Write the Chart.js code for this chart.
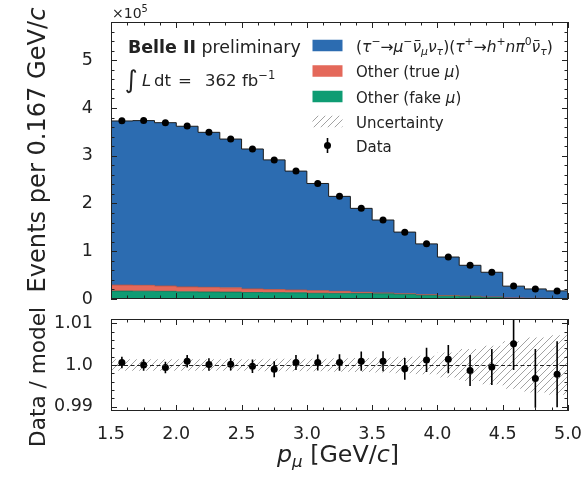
<!DOCTYPE html>
<html>
<head>
<meta charset="utf-8">
<title>p_mu distribution, Belle II preliminary</title>
<script src="https://cdn.jsdelivr.net/npm/chart.js"></script>
<style>
  body { margin: 0; background: #fff; }
  #wrap { position: relative; width: 583px; height: 477px; }
  #main { position: absolute; left: 0; top: 0; }
  #ratio { position: absolute; left: 0; top: 300px; }
</style>
</head>
<body>
<div id="wrap">
  <canvas id="main" width="583" height="310"></canvas>
  <canvas id="ratio" width="583" height="177"></canvas>
</div>
<script>
// bin edges of p_mu [GeV/c], 21 bins of 0.167
const binEdges = [1.5, 1.6667, 1.8333, 2.0, 2.1667, 2.3333, 2.5, 2.6667, 2.8333, 3.0, 3.1667,
                  3.3333, 3.5, 3.6667, 3.8333, 4.0, 4.1667, 4.3333, 4.5, 4.6667, 4.8333, 5.0];

// stacked model components (events per bin)
const signal = [343600, 344900, 341900, 336400, 324500, 311600, 292900, 271500, 248900, 224400, 198800,
                175700, 152700, 129000, 106300, 80700, 64800, 51700, 24700, 19600, 16100];
const otherTrueMu = [12700, 12300, 11300, 10300, 9800, 8900, 7600, 6500, 5900, 5500, 4400,
                     2700, 1900, 1500, 1600, 1300, 1300, 1300, 1300, 800, 400];
const otherFakeMu = [16500, 16300, 16000, 15000, 14700, 14400, 13600, 13300, 13000, 12000, 11700,
                     11400, 10800, 9600, 7500, 5900, 4500, 3000, 900, 700, 500];

// data
const dataCounts = [373000, 373500, 369000, 362000, 349000, 335000, 314000, 291000, 268000, 242000, 215000,
                    190000, 165500, 140000, 115500, 88000, 70500, 56000, 27000, 21000, 17000];

// ratio panel
const ratio = [1.0006, 1.0000, 0.9994, 1.0009, 1.0001, 1.0002, 0.9997, 0.9990, 1.0006, 1.0006, 1.0006,
               1.0009, 1.0009, 0.9991, 1.0012, 1.0014, 0.9987, 0.9995, 1.0051, 0.9968, 0.9978];
const ratioErr = [0.0014, 0.0014, 0.0014, 0.0015, 0.0015, 0.0015, 0.0016, 0.0019, 0.0018, 0.0019, 0.0020,
                  0.0023, 0.0024, 0.0026, 0.0029, 0.0034, 0.0037, 0.0043, 0.0063, 0.0070, 0.0079];
const modelUnc = [0.0014, 0.0014, 0.0014, 0.0014, 0.0014, 0.0014, 0.0014, 0.0015, 0.0015, 0.0015, 0.0016,
                  0.0017, 0.0018, 0.0020, 0.0022, 0.0030, 0.0038, 0.0046, 0.0057, 0.0066, 0.0071];

// ticks
const pTicks = [1.5, 2.0, 2.5, 3.0, 3.5, 4.0, 4.5, 5.0];
const pTickLabels = ['1.5', '2.0', '2.5', '3.0', '3.5', '4.0', '4.5', '5.0'];
const countTicks = [0, 100000, 200000, 300000, 400000, 500000];
const countTickLabels = ['0', '1', '2', '3', '4', '5'];
const ratioTicks = [0.99, 1.0, 1.01];
const ratioTickLabels = ['0.99', '1.0', '1.01'];

const FONT = '"DejaVu Sans", "Liberation Sans", sans-serif';
const INK = '#222';
const C_SIG = '#2c6cb1';
const C_TRUE = '#e4685a';
const C_FAKE = '#0e9c73';

const centers = binEdges.slice(0, -1).map((e, i) => (e + binEdges[i + 1]) / 2);
const xy = vals => vals.map((v, i) => ({ x: centers[i], y: v }));
// points on bin edges for stepped lines, last bin value repeated at the right edge
const stepPts = vals => binEdges.map((e, i) => ({ x: e, y: vals[Math.min(i, vals.length - 1)] }));

function hatchPattern(ctx) {
  const s = 7;
  const c = document.createElement('canvas');
  c.width = s; c.height = s;
  const g = c.getContext('2d');
  g.strokeStyle = '#a2a2a2';
  g.lineWidth = 1;
  g.beginPath();
  g.moveTo(0, s); g.lineTo(s, 0);
  g.moveTo(-1, 1); g.lineTo(1, -1);
  g.moveTo(s - 1, s + 1); g.lineTo(s + 1, s - 1);
  g.stroke();
  return ctx.createPattern(c, 'repeat');
}

// text made of pieces (italic, bold, super/subscripts)
const P = (t, o) => Object.assign({ t }, o || {});
function rich(ctx, parts, x, y, size, opts) {
  opts = opts || {};
  const fontOf = (p, s) => (p.i ? 'italic ' : '') + (p.b ? 'bold ' : '') + s + 'px ' + FONT;
  const sizeOf = (p, s) => s * ((p.sup || p.sub) ? 0.7 : 1) * (p.s || 1);
  const measure = s => parts.reduce((w, p) => {
    ctx.font = fontOf(p, sizeOf(p, s));
    return w + ctx.measureText(p.t).width + (p.gap || 0) * s;
  }, 0);
  if (opts.width) size *= opts.width / measure(size);
  const total = measure(size);
  let cx = opts.align === 'center' ? x - total / 2 : x;
  ctx.fillStyle = opts.color || INK;
  ctx.textAlign = 'left';
  ctx.textBaseline = 'alphabetic';
  for (const p of parts) {
    const s = sizeOf(p, size);
    ctx.font = fontOf(p, s);
    if (p.x !== undefined) cx = p.x;
    const dy = (p.sup ? -0.42 * size : p.sub ? 0.2 * size : 0) + (p.dy || 0) * size;
    ctx.fillText(p.t, cx, y + dy);
    const tw = ctx.measureText(p.t).width;
    if (p.bar) ctx.fillRect(cx + tw * 0.28, y + dy - 0.74 * s, tw * 0.62, Math.max(1, 0.06 * s));
    cx += tw + (p.gap || 0) * size;
  }
  return total;
}

function minorValues(min, max, step) {
  const out = [];
  for (let k = Math.ceil(min / step - 1e-6); k * step <= max + 1e-9; k++) out.push(k * step);
  return out;
}

// frame with inward ticks on all four sides
function drawBox(chart, xStep, yStep) {
  const { ctx, chartArea: a, scales: { x, y } } = chart;
  const isMajor = (scale, v) => scale.ticks.some(t => Math.abs(t.value - v) < 1e-7 * Math.max(1, Math.abs(v)));
  ctx.save();
  ctx.strokeStyle = INK;
  ctx.lineWidth = 1;
  ctx.beginPath();
  for (const v of minorValues(x.min, x.max, xStep)) {
    const px = Math.round(x.getPixelForValue(v)) + 0.5;
    const len = isMajor(x, v) ? 6 : 3.5;
    ctx.moveTo(px, a.bottom); ctx.lineTo(px, a.bottom - len);
    ctx.moveTo(px, a.top); ctx.lineTo(px, a.top + len);
  }
  for (const v of minorValues(y.min, y.max, yStep)) {
    const py = Math.round(y.getPixelForValue(v)) + 0.5;
    const len = isMajor(y, v) ? 6 : 3.5;
    ctx.moveTo(a.left, py); ctx.lineTo(a.left + len, py);
    ctx.moveTo(a.right, py); ctx.lineTo(a.right - len, py);
  }
  ctx.stroke();
  ctx.strokeRect(Math.round(a.left) + 0.5, Math.round(a.top) + 0.5,
                 Math.round(a.right - a.left) - 1, Math.round(a.bottom - a.top) - 1);
  ctx.restore();
}

const tickFont = { family: FONT, size: 17.5 };
const noGrid = { display: false };
const noBorder = { display: false };
const fixX = h => s => { s.height = h; s.paddingLeft = 0; s.paddingRight = 0; };
const fixY = w => s => { s.width = w; s.paddingTop = 0; s.paddingBottom = 0; };

// ---- main panel ----
const mainCtx = document.getElementById('main').getContext('2d');
const hatchMain = hatchPattern(mainCtx);

const mainDecor = {
  id: 'mainDecor',
  afterDraw(chart) {
    const ctx = chart.ctx;
    drawBox(chart, 0.125, 20000);
    ctx.save();
    rich(ctx, [P('×10'), P('5', { sup: 1 })], 112, 18, 14);
    rich(ctx, [P('Belle II', { b: 1 }), P(' preliminary')], 128, 53, 17.5, { width: 173 });
    rich(ctx, [P('∫', { s: 1.5, x: 125, dy: 0.12 }), P('L', { i: 1, x: 142 }), P('dt', { x: 154 }),
               P('=', { x: 178 }), P('362', { x: 205 }), P('fb', { x: 242 }), P('−1', { sup: 1 })], 0, 86, 16.5);

    // legend
    const rows = [45.5, 71, 96.5, 121.5, 145.5];
    const px = 312.5, pw = 30, ph = 11.5, tx = 356;
    ctx.fillStyle = C_SIG; ctx.fillRect(px, rows[0] - ph / 2, pw, ph);
    ctx.fillStyle = C_TRUE; ctx.fillRect(px, rows[1] - ph / 2, pw, ph);
    ctx.fillStyle = C_FAKE; ctx.fillRect(px, rows[2] - ph / 2, pw, ph);
    ctx.fillStyle = hatchMain; ctx.fillRect(px, rows[3] - ph / 2, pw, ph);
    ctx.strokeStyle = '#000'; ctx.lineWidth = 1.6;
    ctx.beginPath(); ctx.moveTo(px + pw / 2, rows[4] - 7.5); ctx.lineTo(px + pw / 2, rows[4] + 7.5); ctx.stroke();
    ctx.fillStyle = '#000';
    ctx.beginPath(); ctx.arc(px + pw / 2, rows[4], 3.5, 0, 2 * Math.PI); ctx.fill();

    rich(ctx, [P('('), P('τ', { i: 1 }), P('−', { sup: 1 }), P('→'), P('μ', { i: 1 }), P('−', { sup: 1 }),
               P('ν', { i: 1, bar: 1 }), P('μ', { i: 1, sub: 1 }), P('ν', { i: 1 }), P('τ', { i: 1, sub: 1 }), P(')'),
               P('('), P('τ', { i: 1 }), P('+', { sup: 1 }), P('→'), P('h', { i: 1 }), P('+', { sup: 1 }),
               P('n', { i: 1 }), P('π', { i: 1 }), P('0', { sup: 1 }), P('ν', { i: 1, bar: 1 }),
               P('τ', { i: 1, sub: 1 }), P(')')], tx, rows[0] + 6, 15, { width: 197 });
    rich(ctx, [P('Other (true '), P('μ', { i: 1 }), P(')')], tx, rows[1] + 6, 15);
    rich(ctx, [P('Other (fake '), P('μ', { i: 1 }), P(')')], tx, rows[2] + 6, 15);
    rich(ctx, [P('Uncertainty')], tx, rows[3] + 6, 15);
    rich(ctx, [P('Data')], tx, rows[4] + 6, 15);

    // y title
    ctx.translate(45, 150);
    ctx.rotate(-Math.PI / 2);
    rich(ctx, [P('Events per 0.167 GeV/'), P('c', { i: 1 })], 0, 0, 22, { width: 285, align: 'center' });
    ctx.restore();
  }
};

new Chart(mainCtx, {
  type: 'line',
  data: {
    datasets: [
      { label: 'Other (fake mu)', data: stepPts(otherFakeMu), stack: 'mc', stepped: true, fill: 'origin',
        backgroundColor: C_FAKE, borderColor: '#0a7254', borderWidth: 0.8, pointRadius: 0, order: 1 },
      { label: 'Other (true mu)', data: stepPts(otherTrueMu), stack: 'mc', stepped: true, fill: '-1',
        backgroundColor: C_TRUE, borderColor: '#b9503f', borderWidth: 0.8, pointRadius: 0, order: 1 },
      { label: 'signal', data: stepPts(signal), stack: 'mc', stepped: true, fill: '-1',
        backgroundColor: C_SIG, borderColor: '#1b1b1b', borderWidth: 1, pointRadius: 0, order: 1 },
      { type: 'scatter', label: 'Data', data: xy(dataCounts), pointRadius: 3.5, pointHoverRadius: 3.5,
        backgroundColor: '#000', borderWidth: 0, order: 0 }
    ]
  },
  options: {
    responsive: false,
    animation: false,
    layout: { padding: { left: 0, right: 15, top: 22, bottom: 0 } },
    plugins: { legend: { display: false }, tooltip: { enabled: false } },
    scales: {
      x: {
        type: 'linear', min: 1.5, max: 5.0,
        afterBuildTicks: s => { s.ticks = pTicks.map(v => ({ value: v })); },
        ticks: { display: false },
        grid: noGrid, border: noBorder,
        afterFit: fixX(11)
      },
      y: {
        type: 'linear', min: 0, max: 580000,
        afterBuildTicks: s => { s.ticks = countTicks.map(v => ({ value: v })); },
        ticks: { callback: (v, i) => countTickLabels[i], padding: 10, color: INK, font: tickFont },
        grid: noGrid, border: noBorder,
        afterFit: fixY(111)
      }
    }
  },
  plugins: [mainDecor]
});

// ---- ratio panel ----
const ratioCtx = document.getElementById('ratio').getContext('2d');
const hatchRatio = hatchPattern(ratioCtx);

const ratioDecor = {
  id: 'ratioDecor',
  afterDatasetsDraw(chart) {
    const { ctx, chartArea: a, scales: { x, y } } = chart;
    ctx.save();
    ctx.beginPath();
    ctx.rect(a.left, a.top, a.right - a.left, a.bottom - a.top);
    ctx.clip();
    ctx.strokeStyle = INK; ctx.lineWidth = 1; ctx.setLineDash([4, 2.5]);
    const py = Math.round(y.getPixelForValue(1.0)) + 0.5;
    ctx.beginPath(); ctx.moveTo(a.left, py); ctx.lineTo(a.right, py); ctx.stroke();
    ctx.setLineDash([]);
    ctx.strokeStyle = '#000'; ctx.lineWidth = 1.6;
    ctx.beginPath();
    ratio.forEach((r, i) => {
      const px = x.getPixelForValue(centers[i]);
      ctx.moveTo(px, y.getPixelForValue(r - ratioErr[i]));
      ctx.lineTo(px, y.getPixelForValue(r + ratioErr[i]));
    });
    ctx.stroke();
    ctx.restore();
  },
  afterDraw(chart) {
    const ctx = chart.ctx;
    drawBox(chart, 0.125, 0.002);
    ctx.save();
    rich(ctx, [P('p', { i: 1 }), P('μ', { i: 1, sub: 1 }), P(' [GeV/'), P('c', { i: 1 }), P(']')],
         277, 162, 22, { width: 122 });
    ctx.translate(45, 77);
    ctx.rotate(-Math.PI / 2);
    rich(ctx, [P('Data / model')], 0, 0, 22, { width: 140, align: 'center' });
    ctx.restore();
  }
};

new Chart(ratioCtx, {
  type: 'line',
  data: {
    datasets: [
      { label: 'unc up', data: stepPts(modelUnc.map(u => 1 + u)), stepped: true, fill: false,
        borderWidth: 0, pointRadius: 0, order: 2 },
      { label: 'Uncertainty', data: stepPts(modelUnc.map(u => 1 - u)), stepped: true, fill: '-1',
        backgroundColor: hatchRatio, borderWidth: 0, pointRadius: 0, order: 1 },
      { type: 'scatter', label: 'Data / model', data: xy(ratio), pointRadius: 3.5, pointHoverRadius: 3.5,
        backgroundColor: '#000', borderWidth: 0, order: 0 }
    ]
  },
  options: {
    responsive: false,
    animation: false,
    layout: { padding: { left: 0, right: 15, top: 19, bottom: 0 } },
    plugins: { legend: { display: false }, tooltip: { enabled: false } },
    scales: {
      x: {
        type: 'linear', min: 1.5, max: 5.0,
        afterBuildTicks: s => { s.ticks = pTicks.map(v => ({ value: v })); },
        ticks: { callback: (v, i) => pTickLabels[i], padding: 5, color: INK, font: tickFont, maxRotation: 0 },
        grid: noGrid, border: noBorder,
        afterFit: fixX(66)
      },
      y: {
        type: 'linear', min: 0.989, max: 1.011,
        afterBuildTicks: s => { s.ticks = ratioTicks.map(v => ({ value: v })); },
        ticks: { callback: (v, i) => ratioTickLabels[i], padding: 10, color: INK, font: tickFont },
        grid: noGrid, border: noBorder,
        afterFit: fixY(111)
      }
    }
  },
  plugins: [ratioDecor]
});
</script>
</body>
</html>
